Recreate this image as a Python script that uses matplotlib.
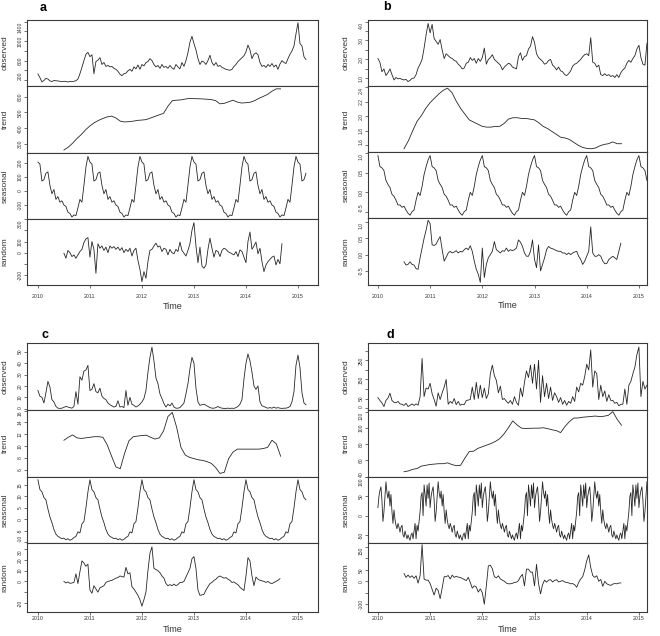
import numpy as np
import matplotlib
matplotlib.use('Agg')
import matplotlib.pyplot as plt

plt.rcParams['font.family'] = ['Liberation Sans', 'DejaVu Sans']

W, H = 660, 636
years = [2010, 2011, 2012, 2013, 2014, 2015]
components = ['observed', 'trend', 'seasonal', 'random']

# ---- panel a (biweekly observed/random, monthly trend, biweekly seasonal figure)
obs_a = [325, 250, 160, 190, 235, 220, 180, 170, 190, 185, 180, 175, 165,
         175, 170, 160, 170, 165, 175, 185, 220, 330, 460, 600, 730, 770,
         680, 720, 330, 580, 610, 660, 520, 560, 480, 500, 470, 480, 440,
         420, 380, 320, 290, 330, 340, 390, 420, 380, 470, 430, 510, 420,
         520, 490, 560, 580, 640, 600, 520, 470, 500, 440, 520, 460, 480,
         440, 500, 450, 420, 520, 470, 430, 560, 480, 600, 760, 980, 1100,
         950, 820, 640, 520, 590, 570, 520, 600, 710, 560, 500, 560, 480,
         500, 460, 440, 420, 410, 400, 420, 480, 520, 580, 620, 660, 700,
         780, 920, 820, 640, 730, 760, 720, 560, 480, 500, 460, 520, 480,
         540, 470, 510, 420, 530, 600, 560, 540, 640, 730, 800, 900, 1150,
         1380, 950, 900, 680, 620]
trend_a = [262, 280, 305, 335, 360, 390, 415, 435, 450, 462, 472, 477, 465,
           445, 440, 442, 445, 450, 452, 455, 465, 475, 485, 495, 540, 575,
           578, 580, 585, 590, 588, 587, 586, 584, 582, 575, 555, 558, 568,
           578, 566, 560, 562, 565, 575, 590, 602, 615, 635, 650, 650]
seas_fig_a = [205, 190, 70, 80, 125, 135, 40, -20, 10, -60, -40, -80, -70,
              -100, -110, -150, -160, -185, -170, -175, -120, -60, -80, 40, 170, 245]
rand_a = [-5, -50, 20, 0, -35, -20, -50, -20, 10, 30, 90, 125, 135,
          -40, 100, 30, -185, 80, 40, 60, 20, 50, 0, 60, 40, 55,
          30, 50, 20, 45, 0, 30, 10, 40, -30, 20, 40, -70, -150,
          -260, -170, -230, -80, 20, 30, 60, 85, 50, 60, 10, 40, 30,
          -20, 30, 0, -10, 30, 10, 95, 20, -5, -30, 20, 80, 200,
          270, 60, -90, 50, -120, -140, -110, 30, 130, 40, -40, 20, 10,
          -35, 20, 40, 30, 10, 0, -10, -20, 10, -35, 25, 10, -40,
          -90, 100, 185, 30, 60, 95, -10, 40, -80, -170, -110, -80, -60,
          -40, -30, -110, -60, -100, 80]

# ---- panel b
obs_b = [2.05, 1.85, 1.35, 1.5, 1.15, 1.3, 1.5, 1.2, 0.92, 1.05, 0.98, 1.0, 0.95,
         0.92, 0.95, 0.83, 0.9, 1.0, 1.02, 1.2, 1.55, 1.75, 2.0, 2.6, 3.3, 3.9,
         3.4, 3.85, 3.1, 2.95, 2.8, 3.05, 2.5, 2.05, 2.3, 2.2, 2.1, 2.05, 1.95,
         1.9, 1.75, 1.65, 1.5, 1.55, 1.8, 1.85, 2.1, 1.95, 2.05, 1.8, 2.05, 1.9,
         2.1, 2.6, 1.75, 2.0, 2.1, 2.25, 2.0, 1.9, 1.8, 1.7, 1.45, 1.6, 1.7,
         1.8, 1.75, 1.6, 1.55, 1.5, 2.15, 2.35, 1.95, 2.15, 2.2, 2.55, 2.7, 3.2,
         2.9, 2.3, 2.1, 2.0, 1.9, 1.75, 1.8, 1.95, 2.0, 1.7, 1.6, 1.45, 1.6,
         1.4, 1.35, 1.2, 1.15, 1.25, 1.4, 1.65, 1.75, 1.8, 1.9, 2.0, 2.15, 2.25,
         2.3, 2.2, 3.15, 1.85, 1.8, 1.6, 1.7, 1.2, 1.15, 1.25, 1.15, 1.2, 1.1,
         1.15, 1.05, 1.2, 1.05, 1.3, 1.45, 1.55, 1.8, 1.95, 1.85, 2.05, 2.2, 2.55,
         2.75, 2.1, 1.75, 1.7, 2.85]
trend_b = [1.55, 1.66, 1.80, 1.93, 2.01, 2.11, 2.19, 2.25, 2.31, 2.36, 2.39, 2.33, 2.21,
           2.11, 2.03, 1.95, 1.92, 1.89, 1.86, 1.85, 1.85, 1.86, 1.86, 1.90, 1.96, 1.98,
           1.98, 1.97, 1.97, 1.96, 1.95, 1.91, 1.86, 1.83, 1.79, 1.75, 1.71, 1.70, 1.68,
           1.64, 1.60, 1.57, 1.555, 1.55, 1.56, 1.59, 1.61, 1.62, 1.645, 1.62, 1.62]
seas_fig_b = [0.93, 0.65, 0.62, 0.55, 0.3, 0.2, 0.12, -0.05, -0.1, -0.2, -0.32, -0.32, -0.38,
              -0.35, -0.45, -0.53, -0.58, -0.49, -0.45, -0.2, 0.0, -0.08, 0.15, 0.45, 0.65, 0.82]
rand_b = [-0.22, -0.32, -0.30, -0.22, -0.30, -0.32, -0.43, -0.45, -0.1, 0.2, 0.5, 0.75, 1.05,
          0.95, 0.3, 0.28, 0.32, 0.45, 0.55, 0.15, -0.2, -0.08, 0.05, 0.1, 0.05, 0.08,
          0.12, 0.05, 0.1, 0.08, 0.15, 0.2, 0.15, 0.27, 0.1, -0.2, -0.45, -0.6, -0.85,
          0.2, -0.7, -0.3, -0.1, 0.0, 0.1, 0.4, 0.15, 0.1, 0.05, 0.12, 0.1, 0.2,
          0.1, 0.15, 0.12, 0.15, 0.2, 0.45, 0.38, 0.25, 0.05, -0.05, -0.05, 0.1, 0.45,
          -0.15, -0.4, 0.3, -0.5, -0.3, -0.1, 0.15, 0.25, 0.2, 0.18, 0.15, 0.12, 0.1,
          0.1, 0.05, 0.05, 0.0, 0.05, 0.0, 0.05, 0.08, 0.1, -0.05, -0.15, -0.3, -0.2,
          -0.05, 0.1, 0.85, 0.05, -0.05, -0.05, 0.0, -0.05, -0.2, -0.28, -0.27, -0.15, -0.1,
          -0.05, -0.1, -0.15, 0.1, 0.35]

# ---- panel c
obs_c = [16, 11, 10, 5, 14, 24, 19, 8, 6, 2, 0.5, 0.3, 0.5,
         1.2, 2, 1.5, 1, 0.5, 2, 15, 4, 28, 25, 33, 34, 38,
         16, 17, 22, 15, 14, 18, 11, 9, 8, 5, 3.5, 2.5, 1.5,
         2, 7, 1.5, 2, 1, 16, 3, 10, 4, 3, 1.5, 2.5, 4,
         6, 9, 16, 32, 45, 54, 42, 27, 22, 13, 9, 4.5, 1.5,
         4, 2.5, 5, 1.5, 0.5, 0.5, 1, 3, 5, 13, 22, 35, 45,
         40, 18, 6, 3, 3.5, 4, 3, 2, 1, 0.5, 0.5, 1, 2,
         1, 0.5, 0.3, 0.3, 0.5, 0.3, 0.5, 0.3, 1, 2, 4, 8, 26,
         40, 48, 42, 32, 20, 17, 20, 6, 2.5, 2, 1, 0.5, 1,
         0.5, 1.5, 0.5, 1, 0.5, 0.3, 0.5, 0.5, 1, 2, 6, 15, 38,
         47, 36, 14, 5, 3.5]
trend_c = [11.0, 11.5, 11.9, 11.4, 11.3, 11.4, 11.5, 11.6, 11.6, 11.5, 10.2, 8.3, 6.5,
           6.2, 8.8, 10.9, 11.6, 11.7, 11.8, 11.85, 11.5, 11.2, 11.4, 12.6, 15.0, 15.7,
           13.2, 9.8, 8.5, 8.1, 7.9, 7.7, 7.6, 7.4, 7.1, 6.4, 5.4, 5.6, 7.9,
           9.0, 9.5, 9.5, 9.5, 9.5, 9.5, 9.5, 9.6, 9.8, 11.0, 10.4, 8.3]
seas_fig_c = [17.3, 13, 12, 9.5, 8.5, 4.5, 1.0, -1.5, -4.5, -6.5, -7.5, -8.0, -8.5,
              -8.3, -9.0, -8.5, -9.2, -8.8, -8.0, -7.5, -5.5, -6.0, -2.0, -1.0, 5.0, 12.0]
rand_c = [0, -1.5, -0.5, -1.8, -1.5, -1.0, 7, -2, 9, 19, 17, 14, 16,
          -8, -11, -4, -7, -10, -6, -5, -4, -1, 0, 0.5, 1, 2,
          3, 3.5, 5, 4.5, 4, 13, 7, 8, -5, -7, -10, -13, -17,
          -23, -17, -10, 10, 26, 32, 12, 11, 10, 8, 5, 3, -2,
          -4, -3, -4, -2.5, -4, -3, -1, -1, 0, 4, 8, 12, 21,
          23, 12, -8, -13, -12.5, -12, -8, -5, -2, -1, 1, 2, 4,
          5, 4, 3, 3.5, 2, 1, -1, -0.5, -2, -3, -5.5, -7, -8.5,
          5, 22, 19, 5, -4, 4, 2, 1, 0.5, 0, -1, 0, -1.5,
          -2, -1, 0, 1, 2.5]

# ---- panel d (weekly seasonal figure)
obs_d = [55, 40, 27, 8, 40, 52, 78, 40, 30, 28, 35, 22, 20,
         14, 25, 8, 15, 22, 14, 22, 15, 59, 260, 60, 105, 100,
         130, 75, 45, 10, 80, 45, 80, 110, 150, 20, 35, 25, 50,
         18, 35, 15, 20, 18, 40, 42, 45, 110, 45, 135, 50, 120,
         55, 105, 50, 75, 180, 225, 170, 145, 80, 115, 45, 50, 35,
         25, 40, 20, 60, 30, 15, 105, 60, 135, 195, 160, 225, 130,
         230, 100, 250, 30, 170, 60, 130, 50, 110, 40, 80, 60, 30,
         55, 20, 40, 15, 35, 25, 60, 35, 110, 85, 130, 120, 165,
         230, 200, 305, 110, 195, 180, 45, 120, 60, 90, 35, 70, 40,
         40, 25, 30, 12, 20, 20, 100, 20, 120, 140, 180, 215, 280,
         320, 60, 140, 100, 120]
trend_d = [46, 47, 49, 50, 53, 54, 55, 55.5, 56, 56, 57, 55, 53.5,
           54, 63, 71, 71.5, 75, 77, 79, 81, 83.5, 87, 93, 100.5, 109,
           104, 100, 99.6, 99.8, 100, 100, 100.5, 99.5, 98, 97, 94.5, 102, 108,
           112.5, 112.6, 113.5, 114, 114.5, 115, 114.3, 114.8, 116, 120.5, 111, 103.6]
seas_fig_d = [21, 50, 65, 75, 40, -15, 10, 50, 88, 60, 45, 64, 25,
              55, 10, -20, 15, -10, -25, -34, -20, -30, -43, -30, -25, -50,
              -56, -40, -50, -60, -50, -58, -64, -50, -45, -60, -40, -20, -60,
              -25, -40, -15, 10, 50, 60, 0, 80, 55, 25, 80, 45, 85]
rand_d = [34, 17, 27, 17, 24, 13, 24, -8, 24, 160, 10, 5, 5,
          -10, -35, -60, -30, -40, -76, -30, 20, 20, 25, 10, 27, 17,
          22, 18, 17, 12, 8, 3, 17, -5, -30, -20, -25, -47, -33,
          -50, -100, -20, 67, 70, 55, 20, 15, 24, 10, 5, 0, -8,
          -11, -11, -9, -5, -4, 3, 20, 30, -20, 53, 53, 40, 40,
          -20, 74, -10, -55, -15, 5, -4, 5, 7, -3, 4, 7, -3,
          0, 3, -3, -5, -7, -11, -10, -15, -26, -5, 10, 20, 50,
          89, 115, 60, 25, 17, 24, 0, 8, -22, 0, -11, -15, -18,
          -12, -10, -11, -8, -7]


def build_series(obs, trend, seas_fig, rand):
    t_obs = 2010 + np.arange(len(obs)) / 26.0
    t_trend = 2010.5 + np.arange(len(trend)) / 12.0
    per = len(seas_fig)
    n_seas = int(round((t_obs[-1] - 2010) * per)) + 1
    seas = np.tile(seas_fig, 7)[:n_seas]   # seasonal figure repeats every year
    t_seas = 2010 + np.arange(n_seas) / per
    t_rand = 2010.5 + np.arange(len(rand)) / 26.0
    return [(t_obs, obs), (t_trend, trend), (t_seas, seas), (t_rand, rand)]


panels = [
    dict(letter='a', lx=43, ly=8, left=27, right=318, edges=[20, 86, 153, 219, 285],
         xlim=(2009.79, 2015.385), year_pad=4.5, time_y=307, fmt='{:g}',
         series=build_series(obs_a, trend_a, seas_fig_a, rand_a),
         ylims=[(77, 1435), (243, 668), (-199, 269), (-290, 302)],
         yticks=[([200, 400, 600, 800, 1000, 1200, 1400], [200, 600, 1000, 1400]),
                 ([300, 400, 500, 600], [300, 400, 500, 600]),
                 ([-100, 0, 100, 200], [-100, 0, 100, 200]),
                 ([-200, -100, 0, 100, 200, 300], [-200, 0, 100, 300])]),
    dict(letter='b', lx=387, ly=7, left=368, right=647, edges=[20, 86, 152, 218, 285],
         xlim=(2009.81, 2015.155), year_pad=4.0, time_y=306, fmt='{:.1f}',
         series=build_series(obs_b, trend_b, seas_fig_b, rand_b),
         ylims=[(0.6, 4.08), (1.505, 2.42), (-0.65, 1.02), (-0.93, 1.12)],
         yticks=[([1.0, 1.5, 2.0, 2.5, 3.0, 3.5, 4.0], [1.0, 2.0, 3.0, 4.0]),
                 ([1.6, 1.8, 2.0, 2.2, 2.4], [1.6, 1.8, 2.0, 2.2, 2.4]),
                 ([-0.5, 0.0, 0.5, 1.0], [-0.5, 0.0, 0.5, 1.0]),
                 ([-0.5, 0.0, 0.5, 1.0], [-0.5, 0.0, 0.5, 1.0])]),
    dict(letter='c', lx=45, ly=335, left=27, right=318, edges=[343, 410, 477, 543, 612],
         xlim=(2009.79, 2015.385), year_pad=1.0, time_y=629, fmt='{:g}',
         series=build_series(obs_c, trend_c, seas_fig_c, rand_c),
         ylims=[(-1.1, 57.6), (4.8, 16.1), (-10.4, 18.5), (-28.4, 35.6)],
         yticks=[([0, 10, 20, 30, 40, 50], [0, 10, 20, 30, 40, 50]),
                 ([6, 8, 10, 12, 14, 16], [6, 8, 10, 12, 14, 16]),
                 ([-10, -5, 0, 5, 10, 15], [-10, -5, 0, 5, 10, 15]),
                 ([-20, -10, 0, 10, 20, 30], [-20, 0, 10, 20, 30])]),
    dict(letter='d', lx=390, ly=335, left=368, right=647, edges=[343, 410, 477, 543, 612],
         xlim=(2009.81, 2015.155), year_pad=1.0, time_y=629, fmt='{:g}',
         series=build_series(obs_d, trend_d, seas_fig_d, rand_d),
         ylims=[(-10, 341), (39.5, 122.5), (-71, 100.5), (-134, 167)],
         yticks=[([0, 50, 100, 150, 200, 250, 300], [0, 50, 150, 250]),
                 ([40, 60, 80, 100, 120], [40, 60, 80, 100, 120]),
                 ([-50, 0, 50, 100], [-50, 0, 50, 100]),
                 ([-100, -50, 0, 50, 100, 150], [-100, 0, 50, 150])]),
]

LINE = '#262626'
FRAME = '#3a3a3a'

fig = plt.figure(figsize=(W / 100, H / 100), dpi=100)

for cfg in panels:
    l, r = cfg['left'], cfg['right']
    edges = cfg['edges']
    for i, name in enumerate(components):
        top, bot = edges[i], edges[i + 1]
        ax = fig.add_axes([l / W, 1 - bot / H, (r - l) / W, (bot - top) / H])
        t, v = cfg['series'][i]
        ax.plot(t, v, color=LINE, lw=0.6)
        ax.set_xlim(cfg['xlim'])
        lo, hi = cfg['ylims'][i]
        ax.set_ylim(lo, hi)
        for sp in ax.spines.values():
            sp.set_color(FRAME)
            sp.set_linewidth(0.8)
        ticks, labeled = cfg['yticks'][i]
        ax.set_yticks(ticks)
        ax.set_yticklabels([cfg['fmt'].format(tk) if tk in labeled else '' for tk in ticks])
        ax.tick_params(axis='y', direction='out', length=2.2, width=0.5, pad=1.0,
                       labelsize=3.6, colors=FRAME, labelcolor='#333333')
        strip_h = bot - top
        for tk, lab in zip(ticks, ax.get_yticklabels()):
            lab.set_rotation(90)
            pos = (tk - lo) / (hi - lo) * strip_h
            # keep labels at a strip edge inside their own strip
            if pos < 7:
                lab.set_va('bottom')
            elif pos > strip_h - 7:
                lab.set_va('top')
            else:
                lab.set_va('center')
        if i < 3:
            ax.set_xticks([])
        else:
            ax.set_xticks(years)
            ax.set_xticklabels([str(y) for y in years])
            ax.tick_params(axis='x', direction='out', length=2.2, width=0.5,
                           pad=cfg['year_pad'], labelsize=3.8, colors=FRAME,
                           labelcolor='#333333')
        fig.text((l - 22) / W, 1 - (top + bot) / 2 / H, name, rotation=90,
                 ha='center', va='center', fontsize=6, color='#333333')
    fig.text(cfg['lx'] / W, 1 - cfg['ly'] / H, cfg['letter'], ha='center', va='center',
             fontsize=9, fontweight='bold', color='black')
    fig.text((l + r) / 2 / W, 1 - cfg['time_y'] / H, 'Time', ha='center', va='center',
             fontsize=6.5, color='#333333')

fig.savefig('out.png', dpi=100)
